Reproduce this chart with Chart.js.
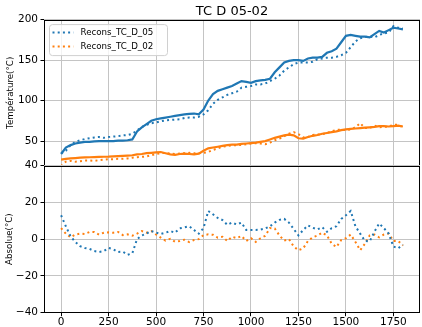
<!DOCTYPE html>
<html>
<head>
<meta charset="utf-8">
<script src="https://cdn.jsdelivr.net/npm/chart.js@4.4.1/dist/chart.umd.min.js"></script>
<style>
    html, body { margin: 0; padding: 0; background: #fff; }
    #wrap { position: relative; width: 422px; height: 327px; }
    #wrap canvas { position: absolute; left: 0; top: 0; }
</style>
</head>
<body>
<div id="wrap">
    <canvas id="topChart" width="422" height="327"></canvas>
    <canvas id="bottomChart" width="422" height="327"></canvas>
</div>
<script>
// ======================================
// Data
// ======================================
const times = [
    0, 25, 50, 75, 100, 125, 150, 175, 200, 225,
    250, 275, 300, 325, 350, 375, 400, 425, 450, 475,
    500, 525, 550, 575, 600, 625, 650, 675, 700, 725,
    750, 775, 800, 825, 850, 875, 900, 925, 950, 975,
    1000, 1025, 1050, 1075, 1100, 1125, 1150, 1175, 1200, 1225,
    1250, 1275, 1300, 1325, 1350, 1375, 1400, 1425, 1450, 1475,
    1500, 1525, 1550, 1575, 1600, 1625, 1650, 1675, 1700, 1725,
    1750, 1775, 1800
];

const measured05 = [
    34, 42, 45, 47, 48, 49, 49, 49.5, 50, 50,
    50, 50, 50.5, 50.5, 51, 52, 62, 67, 71, 75,
    77, 78, 79, 80, 81, 82, 83, 83.5, 84, 83,
    89, 100, 108, 112, 114, 116, 118, 121, 124, 123,
    122, 124, 125, 125.5, 127, 135, 141, 147, 149, 150,
    150, 149, 152, 153, 153, 154, 159, 161, 164, 172,
    180, 181, 180, 179, 179, 178, 182, 186, 184, 187,
    190, 189, 188
];

const recons05 = [
    35, 38, 45, 49, 51, 52.5, 53.5, 54.5, 55, 54,
    55, 55.5, 56, 57, 57.5, 59, 63, 67.5, 70, 72,
    73, 74.5, 75.5, 76, 76.5, 77, 78.5, 79, 79, 80,
    83, 88, 96, 101, 104, 107, 109, 111, 116, 117,
    118, 120, 120, 121, 124, 127, 131, 137, 141, 145,
    147, 147, 147, 148, 151, 152, 153, 153, 154, 156,
    159, 166, 173, 177, 178.5, 179, 178, 181, 183, 184,
    192, 190, 189
];

const measured02 = [
    27, 28, 28.5, 29, 29.5, 29.8, 30, 30.2, 30.5, 30.6,
    30.7, 31, 31.3, 31.6, 32, 32.5, 33.5, 34, 35, 35.5,
    36, 36.5, 35, 33.5, 33, 34, 34.5, 34, 33.5, 34.5,
    38, 41, 42, 43, 44, 45, 45.5, 45.5, 46.5, 47,
    47.5, 48, 49, 50, 52, 54, 55.5, 57, 58, 57,
    53.5, 53, 55, 56.5, 57.5, 59, 60, 61, 62, 63.5,
    64.5, 65, 65.5, 66, 66.5, 67, 67.5, 68.5, 68.5, 68,
    68.5, 69, 68
];

const recons02 = [
    19, 24.5, 25.5, 24.5, 25, 26, 26, 25.5, 26.5, 27,
    27.5, 27.5, 28, 28, 28.5, 29.5, 30, 30.5, 31, 32.5,
    34, 35, 35.5, 34.5, 34, 34.5, 35, 35.5, 35, 35,
    35.5, 36.5, 39, 41, 43, 44, 44.5, 45, 45, 46,
    47, 47.5, 47, 46, 48, 51, 53, 56, 59, 61,
    58.5, 54.5, 55, 57.5, 58, 58.5, 60, 62, 64, 64,
    63.5, 64.5, 67, 72, 66, 66, 69, 67, 67.5, 68,
    70, 70, 67
];

const abs05 = [
    13, 7, 1.5, -1.5, -3.8, -4.8, -5.3, -6.5, -7, -6.5,
    -4.8, -5.5, -7, -6.8, -8.5, -7.7, 0, 2, 3, 4.4,
    3.5, 2.8, 3.5, 4.4, 3.5, 5.9, 6.4, 7, 5, 3,
    6, 15.3, 13.5, 11.5, 10.4, 7.8, 9, 8, 9, 5,
    5, 5, 5.2, 5.8, 7, 9, 10.5, 11, 9, 5.5,
    2, 5, 7.5, 6.2, 5.3, 6.5, 4, 6, 7, 11,
    13, 15.3, 7, 3, -1, -1.2, 4, 8.5, 6, 3,
    -4, -5, -3
];

const abs02 = [
    6, 3, 1, 2.5, 3, 2.8, 3.9, 3.9, 2.5, 3.5,
    3.7, 3.5, 3.9, 2.2, 2.6, 1.9, 3, 4.4, 3.5, 4.4,
    2.5, 0.8, -0.8, 0.2, -1.4, -1, -0.3, -1.6, -0.5, 0,
    2.2, 2.6, 2.4, 0.8, 1.3, -1, 1.3, 0.6, 1.7, -1,
    0.5, -1.5, 0.5, 1.8, 6, 5.8, 2, -0.8, 0, -4,
    -6, -5, -1, 1, 2, 3.5, 2, -2.5, -4.3, -0.5,
    0.5, 2.5, -1.5, -6, -2.5, 2, 2.5, 1, 2.5, 3,
    -1, -1, -3.4
];

const xTicks = [0, 250, 500, 750, 1000, 1250, 1500, 1750];
const topTicks = [50, 100, 150, 200];
const bottomTicks = [-40, -20, 0, 20, 40];

// ======================================
// Styling helpers
// ======================================
const BLUE = '#1f77b4';
const ORANGE = '#ff7f0e';
const GRID = '#c4c4c4';
const FONT = 'DejaVu Sans';
const DOTS = [2, 3.2];

Chart.defaults.font.family = FONT;
Chart.defaults.color = '#000';

// black frame round each plot
const framePlugin = {
    id: 'frame',
    afterDraw(chart) {
        const { ctx, chartArea: a } = chart;
        ctx.save();
        ctx.strokeStyle = '#000';
        ctx.lineWidth = 1;
        ctx.strokeRect(Math.round(a.left) + 0.5, Math.round(a.top) + 0.5,
            Math.round(a.right - a.left) - 1, Math.round(a.bottom - a.top) - 1);
        ctx.restore();
    }
};

// matplotlib-like legend in the upper left corner (dotted series only)
const cornerLegend = {
    id: 'cornerLegend',
    afterDraw(chart) {
        const { ctx, chartArea: a } = chart;
        const items = chart.data.datasets.filter(ds => ds.label.startsWith('Recons'));
        const x = a.left + 5.5, y = a.top + 5;
        const rowH = 14;

        ctx.save();
        ctx.fillStyle = 'rgba(255,255,255,0.8)';
        ctx.strokeStyle = '#d0d0d0';
        ctx.lineWidth = 1;
        ctx.beginPath();
        ctx.roundRect(x, y, 118, 31, 3);
        ctx.fill();
        ctx.stroke();

        ctx.font = '8.7px "' + FONT + '"';
        ctx.textBaseline = 'middle';
        items.forEach((ds, i) => {
            const cy = y + 8 + i * rowH;
            ctx.strokeStyle = ds.borderColor;
            ctx.lineWidth = 2;
            ctx.setLineDash(DOTS);
            ctx.beginPath();
            ctx.moveTo(x + 3, cy);
            ctx.lineTo(x + 24, cy);
            ctx.stroke();
            ctx.setLineDash([]);
            ctx.fillStyle = '#000';
            ctx.fillText(ds.label, x + 31, cy);
        });
        ctx.restore();
    }
};

function xScaleBase() {
    return {
        type: 'linear',
        min: -90,
        max: 1890,
        afterBuildTicks: scale => { scale.ticks = xTicks.map(v => ({ value: v })); },
        border: { display: false }
    };
}

function solidLine(label, data, color) {
    return { label, data, borderColor: color, backgroundColor: color, borderWidth: 2.2, pointRadius: 0, tension: 0 };
}

function dottedLine(label, data, color) {
    return { label, data, borderColor: color, backgroundColor: color, borderWidth: 2, borderDash: DOTS, pointRadius: 0, tension: 0 };
}

// ======================================
// Top chart: temperatures
// ======================================
new Chart(document.getElementById('topChart'), {
    type: 'line',
    data: {
        labels: times,
        datasets: [
            solidLine('TC_D_05', measured05, BLUE),
            dottedLine('Recons_TC_D_05', recons05, BLUE),
            solidLine('TC_D_02', measured02, ORANGE),
            dottedLine('Recons_TC_D_02', recons02, ORANGE)
        ]
    },
    options: {
        responsive: false,
        animation: false,
        devicePixelRatio: 1,
        layout: { padding: { left: 0, right: 2, top: 0, bottom: 161 } },
        plugins: {
            title: {
                display: true,
                text: 'TC D 05-02',
                fullSize: false,
                color: '#000',
                font: { size: 13, weight: 'normal' },
                padding: { top: 3.5, bottom: 0.5 }
            },
            legend: { display: false },
            tooltip: { enabled: false }
        },
        scales: {
            x: Object.assign(xScaleBase(), {
                ticks: { display: false },
                grid: { color: GRID, drawTicks: false },
                afterFit: scale => { scale.height = 0; }
            }),
            y: {
                min: 19.2,
                max: 200,
                afterBuildTicks: scale => { scale.ticks = topTicks.map(v => ({ value: v })); },
                ticks: { font: { size: 10.5 }, color: '#000', padding: 2.5 },
                grid: { color: GRID, tickLength: 3.5, tickColor: '#000' },
                border: { display: false },
                title: {
                    display: true,
                    text: 'Température(°C)',
                    color: '#000',
                    font: { size: 8.7 },
                    padding: { top: 6, bottom: 0 }
                },
                afterFit: scale => { scale.width = 44; }
            }
        }
    },
    plugins: [framePlugin, cornerLegend]
});

// ======================================
// Bottom chart: absolute difference
// ======================================
new Chart(document.getElementById('bottomChart'), {
    type: 'line',
    data: {
        labels: times,
        datasets: [
            dottedLine('Abs_TC_D_05', abs05, BLUE),
            dottedLine('Abs_TC_D_02', abs02, ORANGE)
        ]
    },
    options: {
        responsive: false,
        animation: false,
        devicePixelRatio: 1,
        layout: { padding: { left: 0, right: 2, top: 165.6, bottom: 0 } },
        plugins: {
            legend: { display: false },
            tooltip: { enabled: false }
        },
        scales: {
            x: Object.assign(xScaleBase(), {
                ticks: {
                    font: { size: 10.5 },
                    color: '#000',
                    padding: 0,
                    maxRotation: 0,
                    callback: v => String(v)
                },
                grid: { color: GRID, tickLength: 3.5, tickColor: '#000' },
                afterFit: scale => { scale.height = 14.3; }
            }),
            y: {
                min: -40,
                max: 40,
                afterBuildTicks: scale => { scale.ticks = bottomTicks.map(v => ({ value: v })); },
                ticks: {
                    font: { size: 10.5 },
                    color: '#000',
                    padding: 2.5,
                    callback: v => String(v).replace('-', '\u2212')
                },
                grid: { color: GRID, tickLength: 3.5, tickColor: '#000' },
                border: { display: false },
                title: {
                    display: true,
                    text: 'Absolue(°C)',
                    color: '#000',
                    font: { size: 8.7 },
                    padding: { top: 5, bottom: 0 }
                },
                afterFit: scale => { scale.width = 44; }
            }
        }
    },
    plugins: [framePlugin]
});
</script>
</body>
</html>
